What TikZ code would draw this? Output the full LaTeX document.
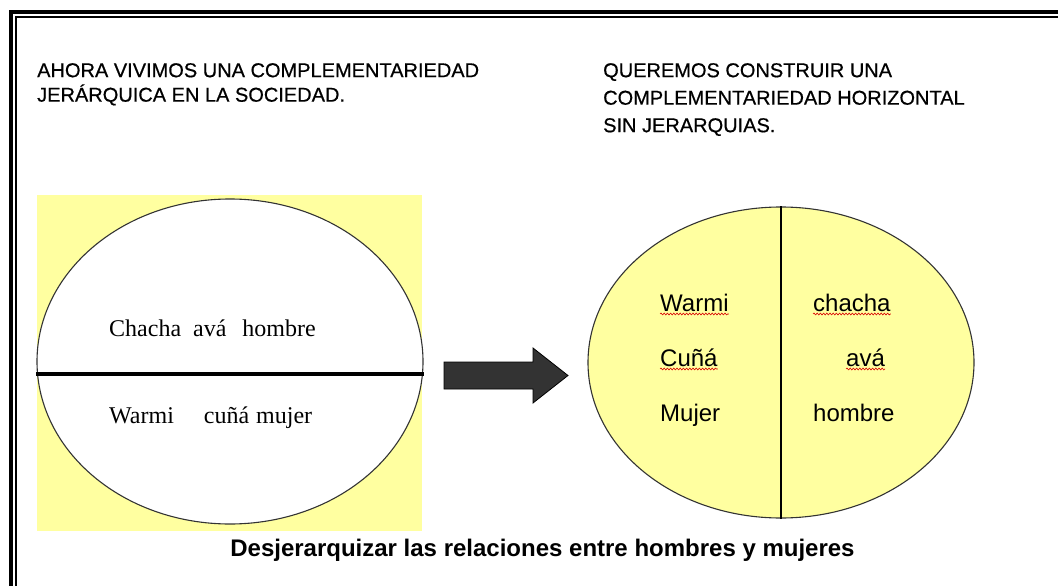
\documentclass[tikz,border=0pt]{standalone}
\usepackage{fontspec}
\setmainfont{Liberation Serif}
\setsansfont{Liberation Sans}
\usetikzlibrary{shapes.geometric,decorations.pathmorphing}
\definecolor{paleyellow}{HTML}{FFFFA0}
\definecolor{arrowgray}{HTML}{333333}

\begin{document}
\begin{tikzpicture}[x=1pt, y=-1pt,
head/.style={anchor=north west, inner sep=0pt, align=left, font=\sffamily\fontsize{20}{24.5}\selectfont\addfontfeature{FakeBold=0.6}},
eq/.style={ellipse, draw=black!80, line width=1.1pt, inner sep=0pt},
rmword/.style={anchor=base west, inner sep=0pt, font=\fontsize{24}{28}\selectfont},
sfword/.style={anchor=base west, inner sep=0pt, font=\sffamily\fontsize{24}{28}\selectfont},
squiggle/.style={red!85!black, line width=0.6pt, decorate, decoration={snake, amplitude=0.9pt, segment length=3.2pt}},
bigarrow/.style={fill=arrowgray, draw=black, line width=0.8pt, line join=miter}]
 \useasboundingbox (0,0) rectangle (1058,586);
 \clip (0,0) rectangle (1058,586);
 \draw[line width=4pt] (11,12) rectangle (1120,640);
 \draw[line width=1.4pt] (16,17) rectangle (1120,640);

 \node[head] (nowhead) at (37,63) {AHORA VIVIMOS UNA COMPLEMENTARIEDAD\\JERÁRQUICA EN LA SOCIEDAD.};
 \node[head, font=\sffamily\fontsize{20}{27.5}\selectfont\addfontfeature{FakeBold=0.6}] (wanthead) at (603,63) {QUEREMOS CONSTRUIR UNA\\COMPLEMENTARIEDAD HORIZONTAL\\SIN JERARQUIAS.};

 \fill[paleyellow] (37,195) rectangle (422,531);
 \node[eq, fill=white, minimum width=386pt, minimum height=325pt] (oldeq) at (230,361.5) {};
 \draw[line width=4pt] ([yshift=-12.5pt]oldeq.west) -- ([yshift=-12.5pt]oldeq.east);
 \node[rmword] (men) at (109,336) {Chacha\hspace{12pt}avá\hspace{16pt}hombre};
 \node[rmword] (women) at (109,423) {Warmi\hspace{30pt}cuñá\hspace{7pt}mujer};

 \draw[bigarrow] (444,362) -- (533,362) -- (533,348) -- (568,375.5) -- (533,403) -- (533,389) -- (444,389) -- cycle;

 \node[eq, fill=paleyellow, minimum width=386pt, minimum height=311pt] (neweq) at (781,362.5) {};
 \draw[line width=2.2pt] (neweq.north) -- (neweq.south);
 \node[sfword] (warmi) at (660,311) {Warmi};
 \node[sfword] (cuna) at (660,366) {Cuñá};
 \node[sfword] (mujer) at (660,421) {Mujer};
 \node[sfword] (chacha) at (813,311) {chacha};
 \node[sfword] (ava) at (846,366) {avá};
 \node[sfword] (hombre) at (813,421) {hombre};
 \foreach \w in {warmi,cuna,chacha,ava}
   \draw[squiggle] ([yshift=-3pt]\w.base west) -- ([yshift=-3pt]\w.base east);

 \node[anchor=base, inner sep=0pt, font=\sffamily\bfseries\fontsize{24}{28}\selectfont] (motto) at (542.5,556) {Desjerarquizar las relaciones entre hombres y mujeres};
\end{tikzpicture}
\end{document}
